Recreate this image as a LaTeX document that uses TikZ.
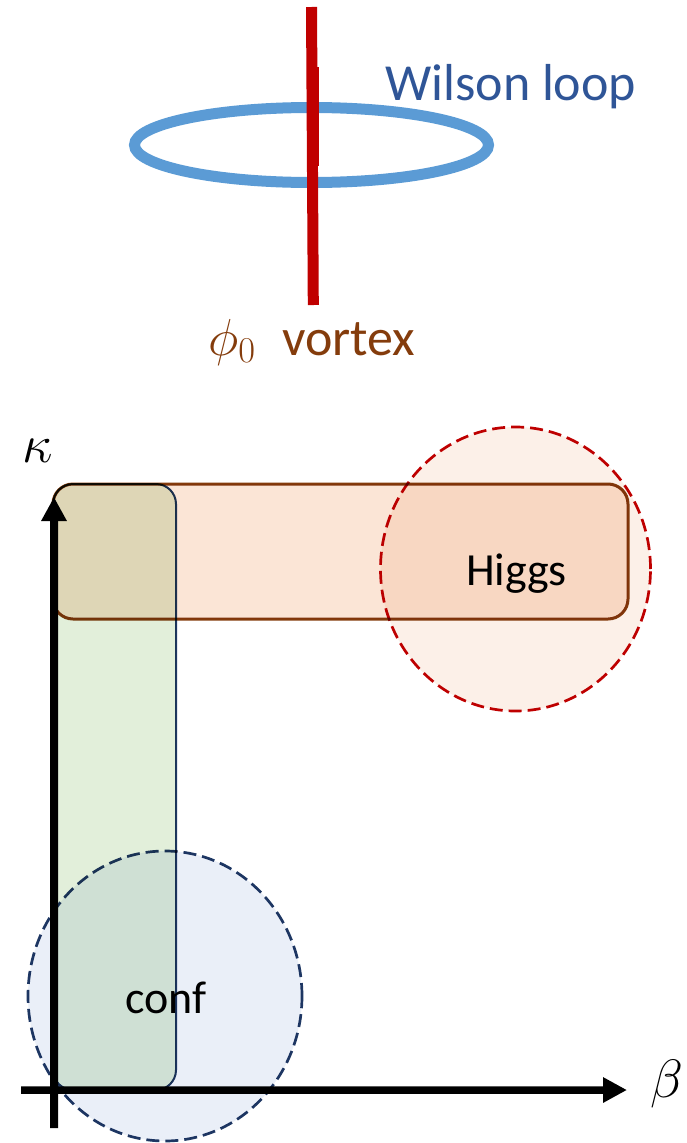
\RequirePackage{fix-cm}
\documentclass[tikz,border=0pt]{standalone}
\usepackage{fontspec}
\setmainfont{Carlito}
\usetikzlibrary{arrows.meta}
\definecolor{vred}{HTML}{C00000}
\definecolor{loopblue}{HTML}{5B9BD5}
\definecolor{wtext}{HTML}{2F5597}
\definecolor{vbrown}{HTML}{843C0C}
\definecolor{navy}{HTML}{1F3864}
\definecolor{gfill}{HTML}{E2EFDA}
\definecolor{ofill}{HTML}{FBE5D6}
\definecolor{rfill}{HTML}{FCF0E8}
\definecolor{bfill}{HTML}{EAEFF8}
\tikzset{
  region/.style={rounded corners=20pt},
  phase/.style={dash pattern=on 13pt off 6pt, line width=2.7pt},
  axis/.style={line width=8pt, -{Triangle[length=24pt,width=24pt]}},
  lbl/.style={inner sep=0pt, font=\fontsize{46}{55}\selectfont},
  toplbl/.style={anchor=base west, inner sep=0pt, font=\fontsize{52}{62}\selectfont},
  greek/.style={inner sep=0pt, font=\fontsize{54}{64}\selectfont},
}
\begin{document}
\begin{tikzpicture}[x=1pt,y=-1pt]
\useasboundingbox (0,0) rectangle (687,1143);
% top: Wilson loop and vortex
\draw[loopblue, line width=11pt] (311.5,145) ellipse [x radius=177pt, y radius=37.5pt];
\draw[vred, line width=11pt] (311.5,7) -- (313.3,305);
\draw[vred, line width=11pt] (313.6,67) -- (313.6,166);
\node[toplbl, text=wtext] (wl) at (385,100) {Wilson loop};
\node[toplbl, text=vbrown] (phi) at (208,355) {$\phi_0$};
\node[toplbl, text=vbrown] (vx) at (282,355) {vortex};
% phase diagram
\coordinate (yb) at (54,1128);
\coordinate (yt) at (54,497);
\coordinate (xl) at (21,1090);
\coordinate (xr) at (627,1090);
\begin{scope}[blend group=multiply]
\draw[region, fill=ofill, draw=vbrown, line width=3pt] (53,484) rectangle (628,619);
\draw[region, fill=gfill, draw=navy, line width=2pt] (53,484) rectangle (176,1090);
\draw[phase, fill=rfill, draw=vred] (515.5,569) ellipse [x radius=135pt, y radius=142pt];
\draw[phase, fill=bfill, draw=navy] (165,996) ellipse [x radius=137pt, y radius=145pt];
\draw[axis] (yb) -- (yt);
\draw[axis, line width=7.5pt] (xl) -- (xr);
\end{scope}
\node[lbl, anchor=base] (higgs) at (516.5,585.7) {Higgs};
\node[lbl, anchor=base] (conf) at (166,1013) {conf};
\node[greek, anchor=base] (kappa) at (38,462) {$\kappa$};
\node[greek, anchor=base] (beta) at (667,1097) {$\beta$};
\end{tikzpicture}
\end{document}
